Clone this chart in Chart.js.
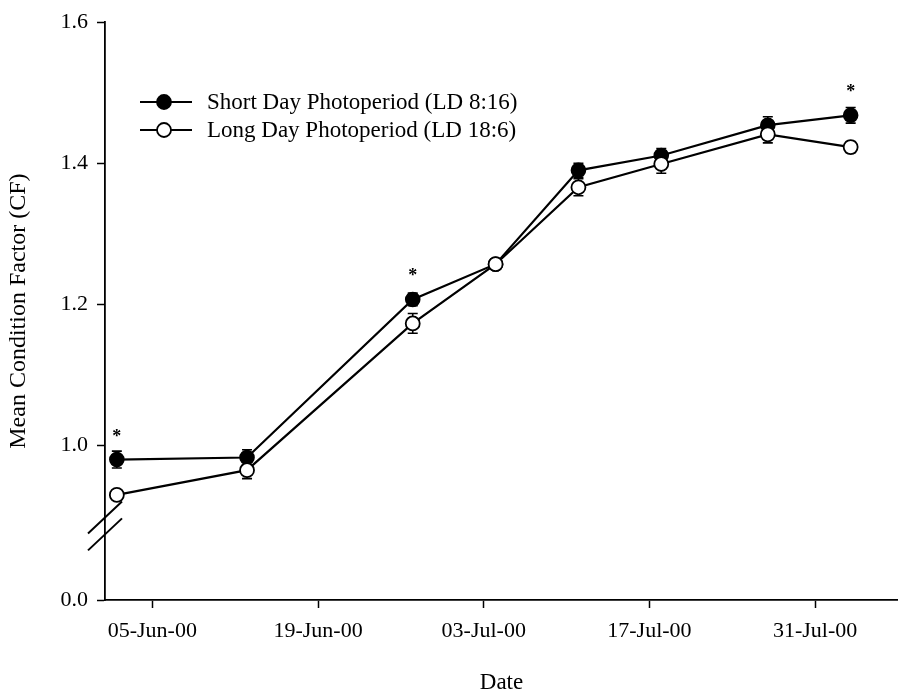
<!DOCTYPE html>
<html>
<head>
<meta charset="utf-8">
<script src="https://cdn.jsdelivr.net/npm/chart.js@4/dist/chart.umd.min.js"></script>
<style>
  html, body { margin: 0; padding: 0; background: #fff; }
  #wrap { width: 898px; height: 697px; }
</style>
</head>
<body>
<div id="wrap"><canvas id="cfChart" width="898" height="697"></canvas></div>
<script>
// sampling dates and mean condition factor for each photoperiod group
const sampleDates = ["2000-06-02", "2000-06-13", "2000-06-27", "2000-07-04", "2000-07-11", "2000-07-18", "2000-07-27", "2000-08-03"];
const shortDayCF = [0.980, 0.983, 1.207, 1.257, 1.390, 1.411, 1.454, 1.468];
const longDayCF = [0.930, 0.965, 1.173, 1.257, 1.366, 1.399, 1.441, 1.423];
const shortDayErr = [0.012, 0.011, 0.009, 0.006, 0.010, 0.010, 0.012, 0.011];
const longDayErr = [0.006, 0.012, 0.014, 0.006, 0.012, 0.013, 0.012, 0.008];
// significant differences marked with a star
const significant = [true, false, true, false, false, false, false, true];

const xTickDates = ["2000-06-05", "2000-06-19", "2000-07-03", "2000-07-17", "2000-07-31"];
const xTickLabels = ["05-Jun-00", "19-Jun-00", "03-Jul-00", "17-Jul-00", "31-Jul-00"];
const yTickValues = [1.0, 1.2, 1.4, 1.6];
const yTickLabels = ["1.0", "1.2", "1.4", "1.6"];

const seriesLabels = ["Short Day Photoperiod (LD 8:16)", "Long Day Photoperiod (LD 18:6)"];

// axis is broken below 1.0, bottom of the axis is labelled 0.0
const brokenAxisBase = 0.781;
const xStart = "2000-06-01";
const xEnd = "2000-08-07";

const serif = '"Liberation Serif", "Times New Roman", serif';

function dayNum(s) {
    const [y, m, d] = s.split("-").map(Number);
    return (Date.UTC(y, m - 1, d) - Date.UTC(2000, 5, 1)) / 86400000;
}

const shortPoints = sampleDates.map((d, i) => ({ x: dayNum(d), y: shortDayCF[i] }));
const longPoints = sampleDates.map((d, i) => ({ x: dayNum(d), y: longDayCF[i] }));

// error bars, drawn under the markers
const errorBars = {
    id: "errorBars",
    beforeDatasetsDraw(chart) {
        const ctx = chart.ctx;
        const yScale = chart.scales.y;
        const errs = [shortDayErr, longDayErr];
        ctx.save();
        ctx.strokeStyle = "#000";
        ctx.lineWidth = 1.6;
        chart.data.datasets.forEach((ds, i) => {
            const meta = chart.getDatasetMeta(i);
            meta.data.forEach((pt, j) => {
                const v = ds.data[j].y;
                const top = yScale.getPixelForValue(v + errs[i][j]);
                const bot = yScale.getPixelForValue(v - errs[i][j]);
                ctx.beginPath();
                ctx.moveTo(pt.x, top);
                ctx.lineTo(pt.x, bot);
                ctx.moveTo(pt.x - 5, top);
                ctx.lineTo(pt.x + 5, top);
                ctx.moveTo(pt.x - 5, bot);
                ctx.lineTo(pt.x + 5, bot);
                ctx.stroke();
            });
        });
        ctx.restore();
    }
};

// stars, axis break marks and the legend box
const extras = {
    id: "extras",
    afterDraw(chart) {
        const ctx = chart.ctx;
        const yScale = chart.scales.y;
        const area = chart.chartArea;
        ctx.save();

        // stars over significant dates
        const meta = chart.getDatasetMeta(0);
        ctx.fillStyle = "#000";
        ctx.font = "bold 18px " + serif;
        ctx.textAlign = "center";
        ctx.textBaseline = "alphabetic";
        significant.forEach((s, j) => {
            if (!s) return;
            const pt = meta.data[j];
            ctx.fillText("*", pt.x, pt.y - 18);
        });

        // the // break on the y axis
        ctx.strokeStyle = "#000";
        ctx.lineWidth = 2;
        [0.898, 0.874].forEach(v => {
            const py = yScale.getPixelForValue(v);
            ctx.beginPath();
            ctx.moveTo(area.left - 17, py + 16);
            ctx.lineTo(area.left + 17, py - 16);
            ctx.stroke();
        });

        // legend
        const rows = [102, 130];
        ctx.font = "23px " + serif;
        ctx.textAlign = "left";
        ctx.textBaseline = "middle";
        rows.forEach((ly, i) => {
            ctx.lineWidth = 2.2;
            ctx.beginPath();
            ctx.moveTo(140, ly);
            ctx.lineTo(192, ly);
            ctx.stroke();
            ctx.beginPath();
            ctx.arc(164, ly, 7, 0, Math.PI * 2);
            ctx.fillStyle = i === 0 ? "#000" : "#fff";
            ctx.fill();
            ctx.lineWidth = 1.8;
            ctx.stroke();
            ctx.fillStyle = "#000";
            ctx.fillText(seriesLabels[i], 207, ly + 1);
        });
        ctx.restore();
    }
};

const ctx = document.getElementById("cfChart").getContext("2d");
const cfChart = new Chart(ctx, {
    type: "line",
    data: {
        datasets: [{
            label: seriesLabels[0],
            data: shortPoints,
            borderColor: "#000",
            backgroundColor: "#000",
            pointBackgroundColor: "#000",
            pointBorderColor: "#000",
            pointRadius: 7,
            pointBorderWidth: 1.6,
            borderWidth: 2.2,
            order: 2
        }, {
            label: seriesLabels[1],
            data: longPoints,
            borderColor: "#000",
            backgroundColor: "#fff",
            pointBackgroundColor: "#fff",
            pointBorderColor: "#000",
            pointRadius: 7,
            pointBorderWidth: 1.8,
            borderWidth: 2.2,
            order: 1
        }]
    },
    options: {
        responsive: false,
        animation: false,
        layout: { autoPadding: false, padding: { top: 20, right: 0, bottom: 0, left: 0 } },
        plugins: {
            legend: { display: false },
            tooltip: { enabled: false }
        },
        scales: {
            x: {
                type: "linear",
                min: dayNum(xStart),
                max: dayNum(xEnd),
                afterBuildTicks: scale => {
                    scale.ticks = xTickDates.map(d => ({ value: dayNum(d) }));
                },
                afterFit: scale => {
                    scale.height = 97;
                    scale.paddingLeft = 0;
                    scale.paddingRight = 0;
                },
                ticks: {
                    color: "#000",
                    font: { family: serif, size: 22 },
                    padding: 10,
                    maxRotation: 0,
                    autoSkip: false,
                    callback: (value, index) => xTickLabels[index]
                },
                grid: {
                    drawOnChartArea: false,
                    drawTicks: true,
                    tickLength: 8,
                    tickWidth: 1.5,
                    tickColor: "#000"
                },
                border: { color: "#000", width: 1.8 },
                title: {
                    display: true,
                    text: "Date",
                    color: "#000",
                    font: { family: serif, size: 23 },
                    padding: { top: 0, bottom: 0 }
                }
            },
            y: {
                type: "linear",
                min: brokenAxisBase,
                max: 1.6,
                afterBuildTicks: scale => {
                    scale.ticks = [{ value: brokenAxisBase }].concat(yTickValues.map(v => ({ value: v })));
                },
                afterFit: scale => { scale.width = 105; },
                ticks: {
                    color: "#000",
                    font: { family: serif, size: 22 },
                    padding: 9,
                    autoSkip: false,
                    callback: (value, index) => index === 0 ? "0.0" : yTickLabels[index - 1]
                },
                grid: {
                    drawOnChartArea: false,
                    drawTicks: true,
                    tickLength: 8,
                    tickWidth: 1.5,
                    tickColor: "#000"
                },
                border: { color: "#000", width: 1.8 },
                title: {
                    display: true,
                    text: "Mean Condition Factor (CF)",
                    color: "#000",
                    font: { family: serif, size: 24 },
                    padding: { top: 4, bottom: 0 }
                }
            }
        }
    },
    plugins: [errorBars, extras]
});
</script>
</body>
</html>
